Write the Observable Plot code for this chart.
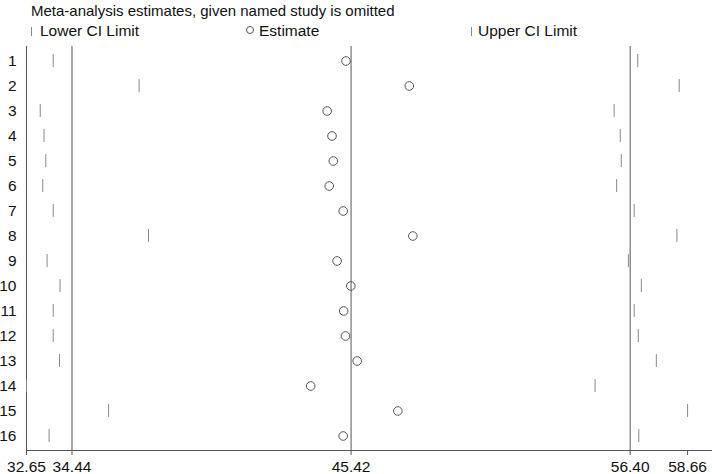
<!DOCTYPE html>
<html>
<head>
<meta charset="utf-8">
<script src="https://cdn.jsdelivr.net/npm/d3@7"></script>
<script src="https://cdn.jsdelivr.net/npm/@observablehq/plot@0.6"></script>
<style>
  html, body { margin: 0; padding: 0; background: #fff; }
  #wrap { width: 712px; font-family: "Liberation Sans", Arial, Helvetica, sans-serif; color: #111; }
  #head { position: relative; width: 712px; height: 42px; }
  #head .t { position: absolute; font-size: 15.5px; line-height: 15px; white-space: nowrap; }
  #head .tick { position: absolute; width: 1px; height: 9px; background: #888; }
  #head .circ { position: absolute; width: 6px; height: 6px; border: 1px solid #555; border-radius: 50%; }
  svg { display: block; }
</style>
</head>
<body>
<div id="wrap">
  <div id="head">
    <div class="t" id="title" style="left:31px; top:3px; font-size:15px;"></div>
    <div class="tick" style="left:31px; top:27px;"></div>
    <div class="t" id="lg1" style="left:40px; top:23px;"></div>
    <div class="circ" style="left:246px; top:26px;"></div>
    <div class="t" id="lg2" style="left:259px; top:23px;"></div>
    <div class="tick" style="left:471px; top:27px;"></div>
    <div class="t" id="lg3" style="left:478px; top:23px;"></div>
  </div>
  <div id="chart"></div>
</div>
<script>
const titleText = "Meta-analysis estimates, given named study is omitted";
const legendLabels = ["Lower CI Limit", "Estimate", "Upper CI Limit"];

const studies = [1, 2, 3, 4, 5, 6, 7, 8, 9, 10, 11, 12, 13, 14, 15, 16];
const lower = [33.70, 37.08, 33.19, 33.34, 33.41, 33.29, 33.70, 37.45, 33.46, 33.97, 33.70, 33.70, 33.95, 32.65, 35.88, 33.54];
const estimate = [45.22, 47.71, 44.48, 44.67, 44.72, 44.56, 45.11, 47.85, 44.87, 45.41, 45.13, 45.20, 45.66, 43.83, 47.26, 45.11];
const upper = [56.70, 58.33, 55.77, 56.01, 56.05, 55.87, 56.56, 58.24, 56.33, 56.84, 56.56, 56.72, 57.43, 55.02, 58.66, 56.74];
const xTicks = [32.65, 34.44, 45.42, 56.40, 58.66];
const refLines = [34.44, 45.42, 56.40];
const xDomain = [32.65, 59.64];

document.getElementById("title").textContent = titleText;
document.getElementById("lg1").textContent = legendLabels[0];
document.getElementById("lg2").textContent = legendLabels[1];
document.getElementById("lg3").textContent = legendLabels[2];

const rows = studies.map((s, i) => ({study: s, lower: lower[i], estimate: estimate[i], upper: upper[i]}));

const chart = Plot.plot({
  width: 712,
  height: 432,
  marginLeft: 26,
  marginRight: 0,
  marginTop: 4,
  marginBottom: 24,
  style: {fontFamily: "'Liberation Sans', Arial, Helvetica, sans-serif", fontSize: "15.5px", color: "#111", background: "#fff"},
  x: {domain: xDomain, label: null},
  y: {type: "band", domain: studies, padding: 0, label: null},
  marks: [
    Plot.ruleX([xDomain[0]], {stroke: "#555", strokeWidth: 1}),
    Plot.ruleX(refLines, {stroke: "#555", strokeWidth: 1}),
    Plot.frame({anchor: "bottom", stroke: "#555"}),
    Plot.tickX(rows, {x: "lower", y: "study", stroke: "#888", strokeWidth: 1, insetTop: 6, insetBottom: 6}),
    Plot.tickX(rows, {x: "upper", y: "study", stroke: "#888", strokeWidth: 1, insetTop: 6, insetBottom: 6}),
    Plot.dot(rows, {x: "estimate", y: "study", r: 4.3, stroke: "#555", strokeWidth: 1, fill: "none"}),
    Plot.axisX({ticks: xTicks, tickFormat: d => d.toFixed(2), tickSize: 5, tickPadding: 5, stroke: "#555", fill: "#111", fontSize: 15.5, label: null}),
    Plot.axisY({tickSize: 0, tickPadding: 10, fill: "#111", fontSize: 15.5, label: null})
  ]
});
document.getElementById("chart").appendChild(chart);
</script>
</body>
</html>
